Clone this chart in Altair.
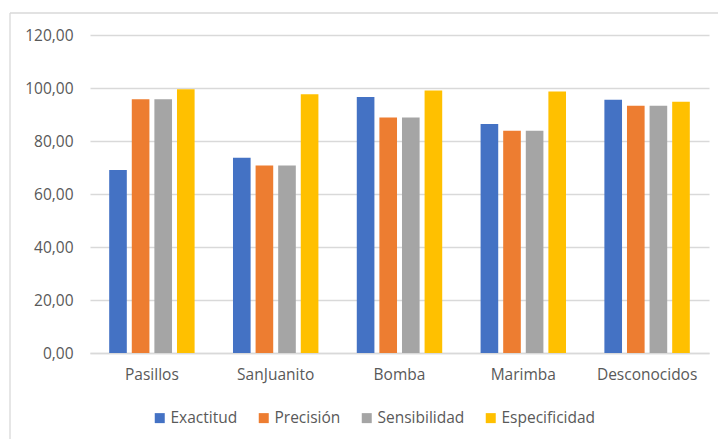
import altair as alt
import pandas as pd

# Genre categories and per-metric scores (%)
categories = ["Pasillos", "SanJuanito", "Bomba", "Marimba", "Desconocidos"]
metrics = ["Exactitud", "Precisión", "Sensibilidad", "Especificidad"]
exactitud = [69.1, 73.7, 96.6, 86.4, 95.6]
precision = [95.8, 70.8, 88.9, 83.9, 93.3]
sensibilidad = [95.8, 70.8, 88.9, 83.9, 93.3]
especificidad = [99.5, 97.6, 99.1, 98.7, 94.8]
colors = ["#4472C4", "#ED7D31", "#A5A5A5", "#FFC000"]

series = [exactitud, precision, sensibilidad, especificidad]
rows = []
for m, vals in zip(metrics, series):
    for c, v in zip(categories, vals):
        rows.append({"genero": c, "metrica": m, "valor": v})
df = pd.DataFrame(rows)

FONT = "Open Sans"
TXT = "#595959"
GRID = "#D9D9D9"

bars = alt.Chart(df).mark_bar().encode(
    x=alt.X(
        "genero:N",
        sort=categories,
        title=None,
        scale=alt.Scale(paddingInner=0.31, paddingOuter=0.155),
        axis=alt.Axis(
            labelAngle=0,
            ticks=False,
            tickSize=0,
            labelPadding=14,
            domainColor=GRID,
            domainWidth=1.3,
            labelColor=TXT,
            labelFont=FONT,
            labelFontSize=15.5,
            grid=False,
        ),
    ),
    xOffset=alt.XOffset(
        "metrica:N",
        sort=metrics,
        scale=alt.Scale(paddingInner=0.22, paddingOuter=0),
    ),
    y=alt.Y(
        "valor:Q",
        title=None,
        scale=alt.Scale(domain=[0, 120], nice=False),
        axis=alt.Axis(
            values=[0, 20, 40, 60, 80, 100, 120],
            labelExpr="replace(format(datum.value, '.2f'), '.', ',')",
            domain=False,
            ticks=False,
            tickSize=0,
            labelPadding=17,
            gridColor=GRID,
            gridWidth=1.3,
            labelColor=TXT,
            labelFont=FONT,
            labelFontSize=15.5,
        ),
    ),
    color=alt.Color(
        "metrica:N",
        sort=metrics,
        scale=alt.Scale(domain=metrics, range=colors),
        legend=alt.Legend(
            title=None,
            orient="none",
            direction="horizontal",
            legendX=62,
            legendY=375,
            symbolType="square",
            symbolSize=100,
            symbolStrokeWidth=0,
            labelOffset=3,
            columnPadding=18,
            labelColor=TXT,
            labelFont=FONT,
            labelFontSize=15.5,
        ),
    ),
)

frame = pd.DataFrame({"k": [0]})
left_border = alt.Chart(frame).mark_rule(color=GRID, strokeWidth=1.3).encode(
    x=alt.value(-80), y=alt.value(-22), y2=alt.value(420)
)
top_border = alt.Chart(frame).mark_rule(color=GRID, strokeWidth=1.3).encode(
    x=alt.value(-80), x2=alt.value(700), y=alt.value(-22)
)

chart = (
    alt.layer(bars, left_border, top_border)
    .properties(
        width=619,
        height=318,
        autosize=alt.AutoSizeParams(type="none"),
        padding={"left": 90, "top": 35, "right": 9, "bottom": 86},
        background="white",
    )
    .configure_view(stroke=None)
)

chart.save("out.html", embed_options={"renderer": "svg", "actions": False})
